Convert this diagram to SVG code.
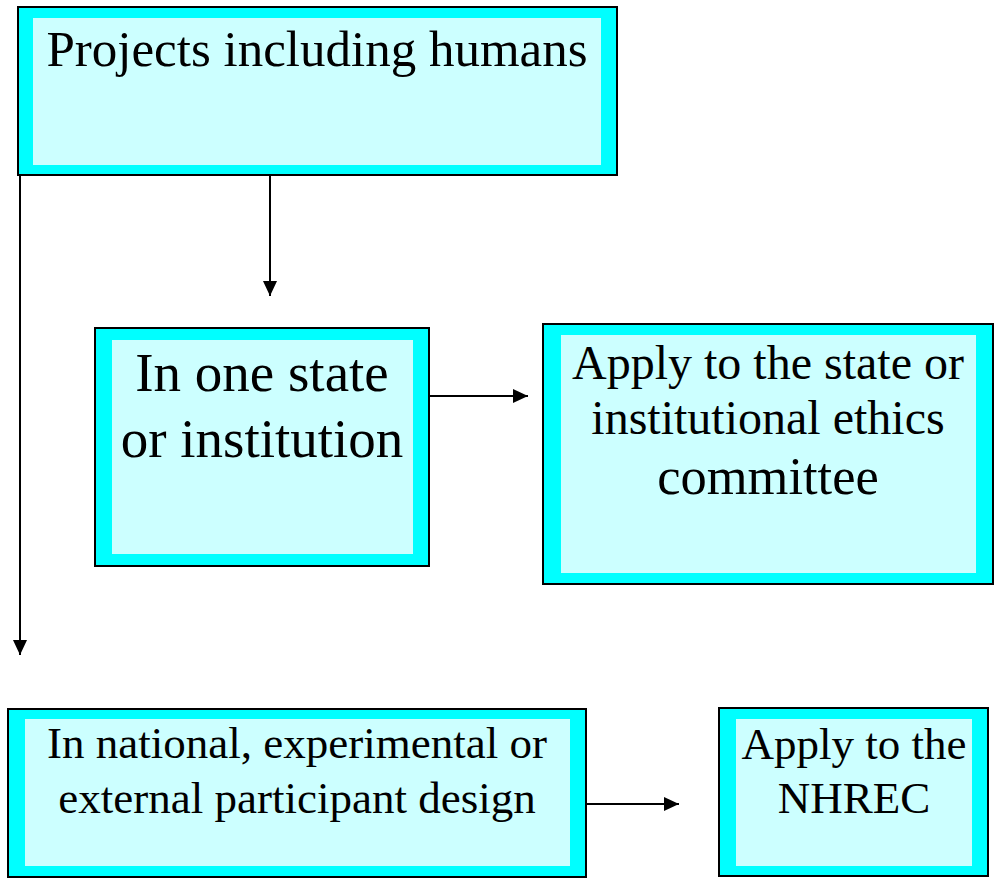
<svg xmlns="http://www.w3.org/2000/svg" width="997" height="888" viewBox="0 0 997 888">
<style>
.outer{fill:#00FFFF;stroke:#000;stroke-width:2}
.inner{fill:#CCFFFF;stroke:none}
text{font-family:"Liberation Serif","Times New Roman",serif;fill:#000;text-anchor:middle}
.conn{stroke:#000;stroke-width:2;fill:none}
</style>
<defs>
<marker id="arr" viewBox="0 0 15 14" refX="15" refY="7" markerWidth="15" markerHeight="14" markerUnits="userSpaceOnUse" orient="auto">
<path d="M0,0 L15,7 L0,14 Z" fill="#000"/>
</marker>
</defs>
<rect width="997" height="888" fill="#fff"/>
<g id="connectors">
<line class="conn" x1="20" y1="175" x2="20" y2="655" marker-end="url(#arr)"/>
<line class="conn" x1="270" y1="175" x2="270" y2="296" marker-end="url(#arr)"/>
<line class="conn" x1="429" y1="396" x2="528" y2="396" marker-end="url(#arr)"/>
<line class="conn" x1="586" y1="804" x2="679" y2="804" marker-end="url(#arr)"/>
</g>
<g id="projects">
<rect class="outer" x="18" y="7" width="599" height="168"/>
<rect class="inner" x="33" y="18" width="568" height="147"/>
<text x="317" y="66" font-size="51">Projects including humans</text>
</g>
<g id="one-state">
<rect class="outer" x="95" y="328" width="334" height="238"/>
<rect class="inner" x="112" y="340" width="301" height="214"/>
<text x="262" y="391" font-size="55">In one state</text>
<text x="262" y="457" font-size="55">or institution</text>
</g>
<g id="apply-state">
<rect class="outer" x="543" y="324" width="450" height="260"/>
<rect class="inner" x="561" y="335" width="415" height="238"/>
<text x="768" y="379" font-size="48">Apply to the state or</text>
<text x="768" y="434" font-size="48">institutional ethics</text>
<text x="768" y="494" font-size="52.5">committee</text>
</g>
<g id="national">
<rect class="outer" x="8" y="709" width="578" height="168"/>
<rect class="inner" x="25" y="719" width="545" height="147"/>
<text x="297" y="758" font-size="45">In national, experimental or</text>
<text x="297" y="813" font-size="45">external participant design</text>
</g>
<g id="nhrec">
<rect class="outer" x="719" y="708" width="269" height="168"/>
<rect class="inner" x="736" y="719" width="236" height="147"/>
<text x="854" y="759" font-size="45">Apply to the</text>
<text x="854" y="813" font-size="45">NHREC</text>
</g>
</svg>
